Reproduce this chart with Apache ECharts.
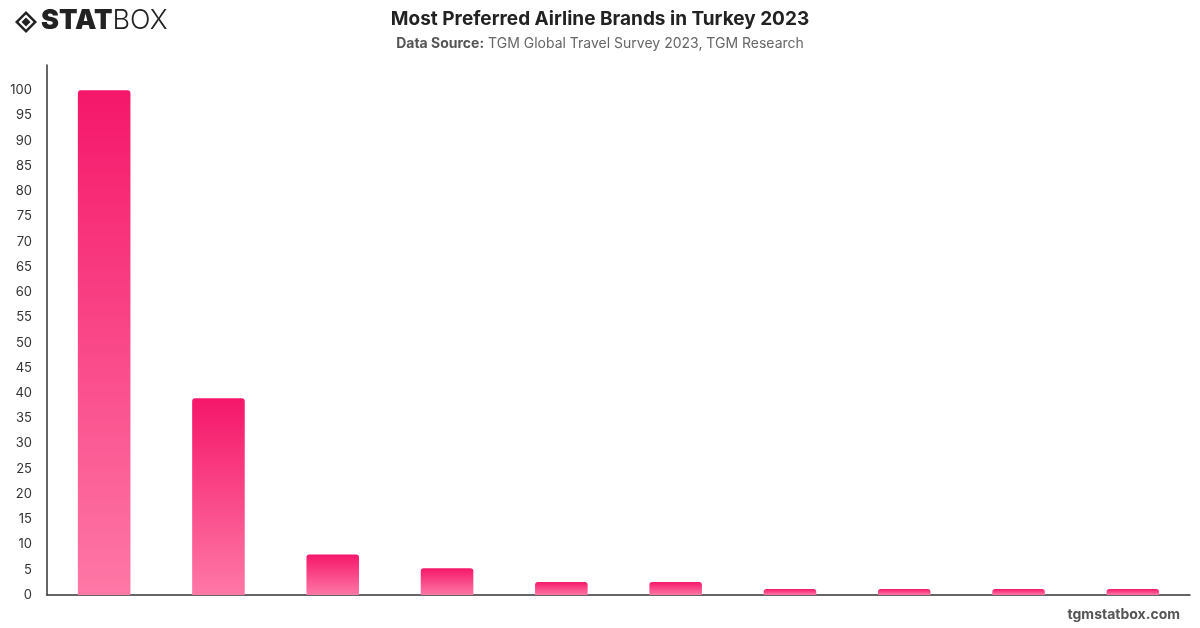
<!DOCTYPE html>
<html>
<head>
<meta charset="utf-8">
<script src="https://cdn.jsdelivr.net/npm/echarts@6/dist/echarts.min.js"></script>
<style>
  html, body { margin: 0; padding: 0; background: #fff; }
  #chart { width: 1200px; height: 628px; }
</style>
</head>
<body>
<div id="chart"></div>
<script>
  // values
  const brands = [
    "Turkish Airlines", "Pegasus Airlines", "AnadoluJet", "SunExpress", "AJet",
    "Emirates", "Qatar Airways", "Lufthansa", "British Airways", "Corendon Airlines"
  ];
  const scores = [100, 39, 8, 5.3, 2.6, 2.6, 1.2, 1.2, 1.2, 1.2];

  const titleText = "Most Preferred Airline Brands in Turkey 2023";
  const sourceLabel = "Data Source:";
  const sourceText = " TGM Global Travel Survey 2023, TGM Research";
  const footerText = "tgmstatbox.com";

  const chart = echarts.init(document.getElementById("chart"));
  const font = "Inter, 'Noto Sans', sans-serif";

  const option = {
    backgroundColor: "#fff",
    textStyle: { fontFamily: font },
    title: {
      text: titleText,
      left: "center",
      top: 5,
      textStyle: { fontSize: 19, fontWeight: "bold", color: "#222", fontFamily: font }
    },
    grid: { left: 47, right: 10, top: 65, bottom: 33 },
    xAxis: {
      type: "category",
      data: brands,
      axisLine: { lineStyle: { color: "#333", width: 1.5 } },
      axisTick: { show: false },
      axisLabel: { show: false }
    },
    yAxis: {
      type: "value",
      min: 0,
      max: 105,
      interval: 5,
      splitLine: { show: false },
      axisLine: { show: true, lineStyle: { color: "#333", width: 1.5 } },
      axisTick: { show: false },
      axisLabel: {
        color: "#333",
        fontSize: 13,
        margin: 15,
        showMaxLabel: false,
        formatter: v => (v > 100 ? "" : v)
      }
    },
    series: [
      {
        type: "bar",
        data: scores,
        barWidth: "46%",
        itemStyle: {
          borderRadius: [3, 3, 0, 0],
          color: new echarts.graphic.LinearGradient(0, 0, 0, 1, [
            { offset: 0, color: "#f5176a" },
            { offset: 1, color: "#fe78a6" }
          ])
        }
      }
    ],
    graphic: [
      // logo diamond
      {
        type: "group",
        left: 15,
        top: 11,
        children: [
          { type: "polygon", shape: { points: [[11, 0], [22, 11], [11, 22], [0, 11]] }, style: { fill: "#222" } },
          { type: "polygon", shape: { points: [[11, 3.5], [18.5, 11], [11, 18.5], [3.5, 11]] }, style: { fill: "#fff" } },
          { type: "polygon", shape: { points: [[11, 6.5], [15.5, 11], [11, 15.5], [6.5, 11]] }, style: { fill: "#222" } }
        ]
      },
      {
        type: "text",
        left: 41,
        top: 7,
        style: {
          text: "{s|STAT}{b|BOX}",
          rich: {
            s: { fontSize: 27, fontWeight: 900, fill: "#222", fontFamily: font },
            b: { fontSize: 27, fontWeight: 300, fill: "#222", fontFamily: font }
          }
        }
      },
      {
        type: "text",
        left: "center",
        top: 37,
        style: {
          text: "{b|" + sourceLabel + "}{n|" + sourceText + "}",
          rich: {
            b: { fontSize: 14, fontWeight: "bold", fill: "#555", fontFamily: font },
            n: { fontSize: 14, fill: "#666", fontFamily: font }
          }
        }
      },
      {
        type: "text",
        right: 20,
        top: 608,
        style: { text: footerText, fontSize: 14, fontWeight: "bold", fill: "#555", fontFamily: font }
      }
    ]
  };

  chart.setOption(option);
</script>
</body>
</html>
